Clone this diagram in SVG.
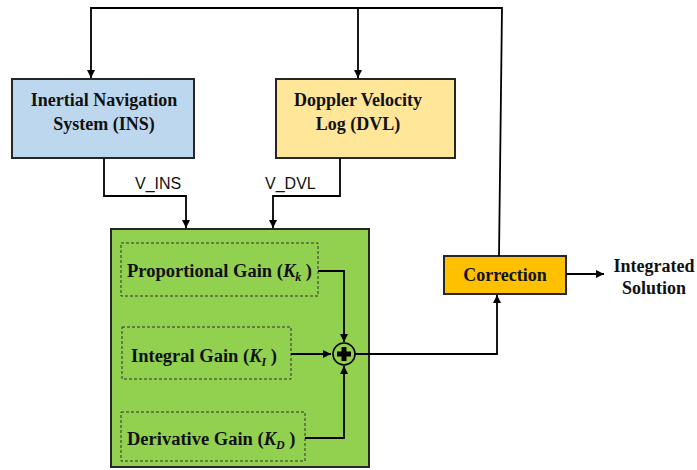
<svg xmlns="http://www.w3.org/2000/svg" width="697" height="470" viewBox="0 0 697 470">
  <defs>
    <marker id="arrow" viewBox="0 0 10 10" refX="10" refY="5" markerWidth="8" markerHeight="8" markerUnits="userSpaceOnUse" orient="auto">
      <path d="M0,0 L10,5 L0,10 z" fill="#000"/>
    </marker>
    <style>
      .box { stroke: #262626; stroke-width: 2; }
      .dash { fill: none; stroke: #333; stroke-width: 1; stroke-dasharray: 3 2; }
      .title { font-family: "Liberation Serif", "Times New Roman", serif; font-weight: bold; font-size: 18px; fill: #111; }
      .gain { font-family: "Liberation Serif", "Times New Roman", serif; font-weight: bold; font-size: 18.5px; fill: #111; }
      .sig { font-family: "Liberation Sans", Arial, sans-serif; font-size: 16px; fill: #111; }
      .wire { fill: none; stroke: #000; stroke-width: 1.8; }
      .k { font-style: italic; }
      .sub { font-style: italic; font-size: 12px; }
    </style>
  </defs>

  <rect width="697" height="470" fill="#fff"/>

  <g id="ins">
    <rect class="box" x="12" y="79" width="182" height="79" fill="#BDD7EE"/>
    <text class="title" x="104" y="106" text-anchor="middle">Inertial Navigation</text>
    <text class="title" x="104" y="130" text-anchor="middle">System (INS)</text>
  </g>

  <g id="dvl">
    <rect class="box" x="276" y="79" width="179" height="79" fill="#FFE699"/>
    <text class="title" x="358" y="106" text-anchor="middle">Doppler Velocity</text>
    <text class="title" x="358" y="130" text-anchor="middle">Log (DVL)</text>
  </g>

  <g id="labels">
    <text class="sig" x="135" y="189">V_INS</text>
    <text class="sig" x="265" y="189">V_DVL</text>
  </g>

  <g id="pid">
    <rect class="box" x="111" y="229" width="258" height="238" fill="#92D050"/>
  </g>

  <g id="proportional">
    <rect class="dash" x="121" y="243" width="197" height="53"/>
    <text class="gain" x="127" y="277">Proportional Gain (<tspan class="k">K</tspan><tspan class="sub" dy="4">k</tspan><tspan dy="-4"> )</tspan></text>
  </g>

  <g id="integral">
    <rect class="dash" x="122" y="327" width="169" height="52"/>
    <text class="gain" x="131" y="362">Integral Gain (<tspan class="k">K</tspan><tspan class="sub" dy="4">I</tspan><tspan dy="-4"> )</tspan></text>
  </g>

  <g id="derivative">
    <rect class="dash" x="121" y="412" width="184" height="49"/>
    <text class="gain" x="127" y="445">Derivative Gain (<tspan class="k">K</tspan><tspan class="sub" dy="4">D</tspan><tspan dy="-4"> )</tspan></text>
  </g>

  <g id="sum">
    <circle cx="344" cy="354" r="11" fill="none" stroke="#000" stroke-width="1.6"/>
    <path d="M341.5,347 h5 v4.5 h4.5 v5 h-4.5 v4.5 h-5 v-4.5 h-4.5 v-5 h4.5 z" fill="#000"/>
  </g>

  <g id="correction">
    <rect class="box" x="444" y="256" width="122" height="38" fill="#FFC000"/>
    <text class="title" x="505" y="281" text-anchor="middle">Correction</text>
  </g>

  <g id="output">
    <text class="title" x="654" y="272" text-anchor="middle" font-size="16">Integrated</text>
    <text class="title" x="654" y="294" text-anchor="middle" font-size="16">Solution</text>
  </g>

  <!-- connectors, drawn last so they sit above the PID block -->
  <g id="connectors">
    <!-- feedback from correction to both sensors -->
    <path class="wire" d="M499,256 L502,8 L91,8 L91,78" marker-end="url(#arrow)"/>
    <path class="wire" d="M358,8 L358,78" marker-end="url(#arrow)"/>
    <!-- sensor outputs into PID -->
    <path class="wire" d="M104,158 L104,196 L186,196 L186,228" marker-end="url(#arrow)"/>
    <path class="wire" d="M340,158 L340,196 L273,196 L273,228" marker-end="url(#arrow)"/>
    <!-- gains into summing junction -->
    <path class="wire" d="M318,271 L344,271 L344,342" marker-end="url(#arrow)"/>
    <path class="wire" d="M291,354 L331,354" marker-end="url(#arrow)" stroke-width="1.4"/>
    <path class="wire" d="M305,438 L344,438 L344,366" marker-end="url(#arrow)"/>
    <!-- summing junction to correction -->
    <path class="wire" d="M355,354 L497,354 L497,295" marker-end="url(#arrow)"/>
    <!-- correction output -->
    <path class="wire" d="M566,274 L604,274" marker-end="url(#arrow)"/>
  </g>
</svg>
